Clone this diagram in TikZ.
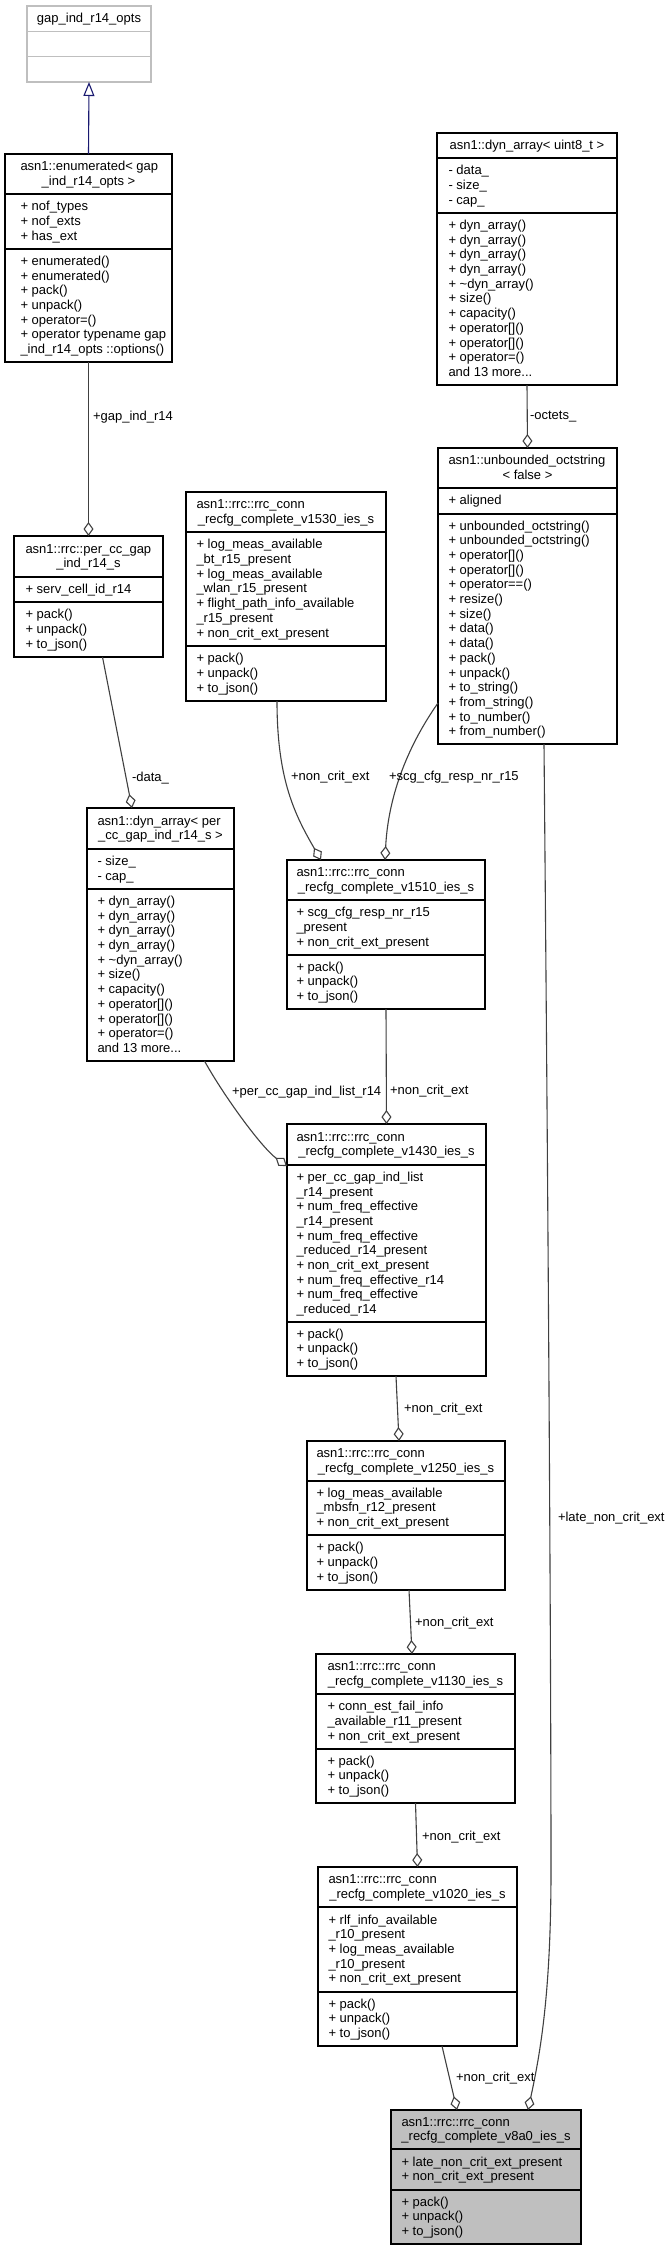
\documentclass[tikz,border=0pt]{standalone}
\usepackage{fontspec}
\setmainfont{Liberation Sans}
\usetikzlibrary{arrows.meta}
\definecolor{edgegray}{HTML}{404040}
\definecolor{midblue}{HTML}{191970}
\definecolor{boxgray}{HTML}{BFBFBF}
\newcommand\threedots{.\kern0pt.\kern0pt.}
\tikzset{
  txt/.style={font=\fontsize{13}{14.7}\selectfont, inner sep=0pt, outer sep=0pt, text=black},
  boxnode/.style={rectangle, draw=black, line width=1.2pt, inner sep=0pt, outer sep=0pt, fill=white},
  agg/.style={draw=edgegray, line width=1.1pt, -{Diamond[open, fill=white, length=14pt, width=10pt]}},
  inh/.style={draw=midblue, line width=1.1pt, -{Triangle[open, fill=white, length=14pt, width=11pt]}}
}
% #1 name, #2 left, #3 top, #4 right, #5 bottom, #6 div1, #7 div2, #8 node style, #9 divider colour
\newcommand\umlbox[9]{%
  \node[boxnode,#8,minimum width={#4-#2},minimum height={#5-#3}] (#1) at ({(#2+#4)/2},{(#3+#5)/2}) {};
  \draw[line width=1.2pt,draw=#9] (#2,#6) -- (#4,#6) (#2,#7) -- (#4,#7);
}
% #1 prefix, #2 x, #3 y0, #4 y1, #5 n, #6 list
\newcommand\seclines[6]{%
  \foreach \mytext [count=\i from 0] in {#6} {
    \node[txt, anchor=base west] (#1-\i) at (#2, {#3 + (#4-#3-#5*14.7)/2 + 11.3 + \i*14.7}) {\mytext};
  }
}
% #1 prefix, #2 xc, #3 y0, #4 y1, #5 text
\newcommand\titleone[5]{%
  \node[txt, anchor=base] (#1) at (#2, {#3 + (#4-#3-14.7)/2 + 11.3}) {#5};
}
% #1 prefix, #2 x left, #3 xc, #4 y0, #5 y1, #6 line 1, #7 line 2
\newcommand\titletwo[7]{%
  \node[txt, anchor=base west] (#1-a) at (#2, {#4 + (#5-#4-29.4)/2 + 11.3}) {#6};
  \node[txt, anchor=base] (#1-b) at (#3, {#4 + (#5-#4-29.4)/2 + 26.0}) {#7};
}
\begin{document}
\begin{tikzpicture}[x=1pt,y=-1pt]
\useasboundingbox (0,0) rectangle (671,2251);
\fill[white] (0,0) rectangle (671,2251);

% gap_ind_r14_opts
\umlbox{opts}{27}{6}{151}{82}{31.5}{56.7}{draw=boxgray}{boxgray}
\titleone{opts-t}{89}{6}{31.5}{gap\_ind\_r14\_opts}

% enumerated
\umlbox{enum}{5}{154}{172}{362}{194}{249}{}{black}
\titletwo{enum-t}{20.5}{88.5}{154}{194}{asn1::enumerated< gap}{\_ind\_r14\_opts >}
\seclines{enum-a}{20.5}{194}{249}{3}{+ nof\_types,+ nof\_exts,+ has\_ext}
\seclines{enum-m}{20.5}{249}{362}{7}{+ enumerated(),+ enumerated(),+ pack(),+ unpack(),+ operator=(),+ operator typename gap,\_ind\_r14\_opts ::options()}

% dyn_array<uint8_t>
\umlbox{dynu}{437}{133}{617}{385}{158}{213}{}{black}
\titleone{dynu-t}{527}{133}{158}{asn1::dyn\_array< uint8\_t >}
\seclines{dynu-a}{448.5}{158}{213}{3}{- data\_,- size\_,- cap\_}
\seclines{dynu-m}{448.5}{213}{385}{11}{+ dyn\_array(),+ dyn\_array(),+ dyn\_array(),+ dyn\_array(),+ \textasciitilde dyn\_array(),+ size(),+ capacity(),+ operator[](),+ operator[](),+ operator=(),and 13 more\threedots}

% unbounded_octstring
\umlbox{unb}{438}{448}{617}{744}{488}{514}{}{black}
\titletwo{unb-t}{448.5}{527.5}{448}{488}{asn1::unbounded\_octstring}{< false >}
\seclines{unb-a}{448.5}{488}{514}{1}{+ aligned}
\seclines{unb-m}{448.5}{514}{744}{15}{+ unbounded\_octstring(),+ unbounded\_octstring(),+ operator[](),+ operator[](),+ operator==(),+ resize(),+ size(),+ data(),+ data(),+ pack(),+ unpack(),+ to\_string(),+ from\_string(),+ to\_number(),+ from\_number()}

% per_cc_gap_ind_r14_s
\umlbox{percc}{14}{536}{163}{657}{577}{602}{}{black}
\titletwo{percc-t}{25.5}{88.5}{536}{577}{asn1::rrc::per\_cc\_gap}{\_ind\_r14\_s}
\seclines{percc-a}{25.5}{577}{602}{1}{+ serv\_cell\_id\_r14}
\seclines{percc-m}{25.5}{602}{657}{3}{+ pack(),+ unpack(),+ to\_json()}

% v1530
\umlbox{va}{186}{492}{386}{701}{532}{646}{}{black}
\titletwo{va-t}{196.5}{286}{492}{532}{asn1::rrc::rrc\_conn}{\_recfg\_complete\_v1530\_ies\_s}
\seclines{va-a}{196.5}{532}{646}{7}{+ log\_meas\_available,\_bt\_r15\_present,+ log\_meas\_available,\_wlan\_r15\_present,+ flight\_path\_info\_available,\_r15\_present,+ non\_crit\_ext\_present}
\seclines{va-m}{196.5}{646}{701}{3}{+ pack(),+ unpack(),+ to\_json()}

% dyn_array<per_cc_gap_ind_r14_s>
\umlbox{dynp}{87}{808}{234}{1061}{849}{889}{}{black}
\titletwo{dynp-t}{97.5}{160.5}{808}{849}{asn1::dyn\_array< per}{\_cc\_gap\_ind\_r14\_s >}
\seclines{dynp-a}{97.5}{849}{889}{2}{- size\_,- cap\_}
\seclines{dynp-m}{97.5}{889}{1061}{11}{+ dyn\_array(),+ dyn\_array(),+ dyn\_array(),+ dyn\_array(),+ \textasciitilde dyn\_array(),+ size(),+ capacity(),+ operator[](),+ operator[](),+ operator=(),and 13 more\threedots}

% v1510
\umlbox{vb}{287}{860}{485}{1009}{900}{955}{}{black}
\titletwo{vb-t}{296.5}{386}{860}{900}{asn1::rrc::rrc\_conn}{\_recfg\_complete\_v1510\_ies\_s}
\seclines{vb-a}{296.5}{900}{955}{3}{+ scg\_cfg\_resp\_nr\_r15,\_present,+ non\_crit\_ext\_present}
\seclines{vb-m}{296.5}{955}{1009}{3}{+ pack(),+ unpack(),+ to\_json()}

% v1430
\umlbox{vc}{287}{1124}{486}{1376}{1165}{1322}{}{black}
\titletwo{vc-t}{296.5}{386.5}{1124}{1165}{asn1::rrc::rrc\_conn}{\_recfg\_complete\_v1430\_ies\_s}
\seclines{vc-a}{296.5}{1165}{1322}{10}{+ per\_cc\_gap\_ind\_list,\_r14\_present,+ num\_freq\_effective,\_r14\_present,+ num\_freq\_effective,\_reduced\_r14\_present,+ non\_crit\_ext\_present,+ num\_freq\_effective\_r14,+ num\_freq\_effective,\_reduced\_r14}
\seclines{vc-m}{296.5}{1322}{1376}{3}{+ pack(),+ unpack(),+ to\_json()}

% v1250
\umlbox{vd}{307}{1441}{505}{1590}{1481}{1535}{}{black}
\titletwo{vd-t}{316.5}{406}{1441}{1481}{asn1::rrc::rrc\_conn}{\_recfg\_complete\_v1250\_ies\_s}
\seclines{vd-a}{316.5}{1481}{1535}{3}{+ log\_meas\_available,\_mbsfn\_r12\_present,+ non\_crit\_ext\_present}
\seclines{vd-m}{316.5}{1535}{1590}{3}{+ pack(),+ unpack(),+ to\_json()}

% v1130
\umlbox{ve}{316}{1654}{515}{1803}{1694}{1749}{}{black}
\titletwo{ve-t}{327.5}{415.5}{1654}{1694}{asn1::rrc::rrc\_conn}{\_recfg\_complete\_v1130\_ies\_s}
\seclines{ve-a}{327.5}{1694}{1749}{3}{+ conn\_est\_fail\_info,\_available\_r11\_present,+ non\_crit\_ext\_present}
\seclines{ve-m}{327.5}{1749}{1803}{3}{+ pack(),+ unpack(),+ to\_json()}

% v1020
\umlbox{vf}{318}{1867}{517}{2046}{1907}{1992}{}{black}
\titletwo{vf-t}{328.5}{417.5}{1867}{1907}{asn1::rrc::rrc\_conn}{\_recfg\_complete\_v1020\_ies\_s}
\seclines{vf-a}{328.5}{1907}{1992}{5}{+ rlf\_info\_available,\_r10\_present,+ log\_meas\_available,\_r10\_present,+ non\_crit\_ext\_present}
\seclines{vf-m}{328.5}{1992}{2046}{3}{+ pack(),+ unpack(),+ to\_json()}

% v8a0
\umlbox{vg}{391}{2110}{581}{2244}{2149}{2190}{fill=boxgray}{black}
\titletwo{vg-t}{401.5}{486}{2110}{2149}{asn1::rrc::rrc\_conn}{\_recfg\_complete\_v8a0\_ies\_s}
\seclines{vg-a}{401.5}{2149}{2190}{2}{+ late\_non\_crit\_ext\_present,+ non\_crit\_ext\_present}
\seclines{vg-m}{401.5}{2190}{2244}{3}{+ pack(),+ unpack(),+ to\_json()}

% connectors
\draw[inh] (enum.north) -- (opts.south);
\draw[agg] (enum.south) -- (percc.north);
\draw[agg] (dynu.south) -- (unb.north);
\draw[agg] ([xshift=14pt]percc.south) -- ([xshift=-28.5pt]dynp.north);
\draw[agg] ([xshift=-9pt]va.south) .. controls +(0,79) and +(-26,-45) .. ([xshift=-65pt]vb.north);
\draw[agg] ([yshift=-107pt]unb.west) .. controls +(-33,47) and +(3,-60) .. ([xshift=-1pt]vb.north);
\draw[agg] (vb.south) -- (vc.north);
\draw[agg] ([xshift=44pt]dynp.south) .. controls +(20,36) and +(-25,-18) .. ([yshift=84pt]vc.west);
\draw[agg] ([xshift=9.5pt]vc.south) -- ([xshift=-7pt]vd.north);
\draw[agg] ([xshift=3pt]vd.south) -- ([xshift=-3.5pt]ve.north);
\draw[agg] (ve.south) -- (vf.north);
\draw[agg] ([xshift=24.5pt]vf.south) -- ([xshift=-29pt]vg.north);
\coordinate (lnbend) at (551,1870);
\draw[agg] ([xshift=16.5pt]unb.south) .. controls (549,1300) and (551,1700) .. (lnbend) .. controls (551,1990) and (541,2050) .. ([xshift=42pt]vg.north);

% connector labels
\node[txt, anchor=base west] (lab1) at (93,420) {+gap\_ind\_r14};
\node[txt, anchor=base west] (lab2) at (530,419) {-octets\_};
\node[txt, anchor=base west] (lab3) at (132,781) {-data\_};
\node[txt, anchor=base west] (lab4) at (291,780) {+non\_crit\_ext};
\node[txt, anchor=base west] (lab5) at (389,780) {+scg\_cfg\_resp\_nr\_r15};
\node[txt, anchor=base west] (lab6) at (390,1094) {+non\_crit\_ext};
\node[txt, anchor=base west] (lab7) at (232,1095) {+per\_cc\_gap\_ind\_list\_r14};
\node[txt, anchor=base west] (lab8) at (404,1412) {+non\_crit\_ext};
\node[txt, anchor=base west] (lab9) at (415,1626) {+non\_crit\_ext};
\node[txt, anchor=base west] (lab10) at (422,1840) {+non\_crit\_ext};
\node[txt, anchor=base west] (lab11) at (456,2081) {+non\_crit\_ext};
\node[txt, anchor=base west] (lab12) at (558,1521) {+late\_non\_crit\_ext};
\end{tikzpicture}
\end{document}
